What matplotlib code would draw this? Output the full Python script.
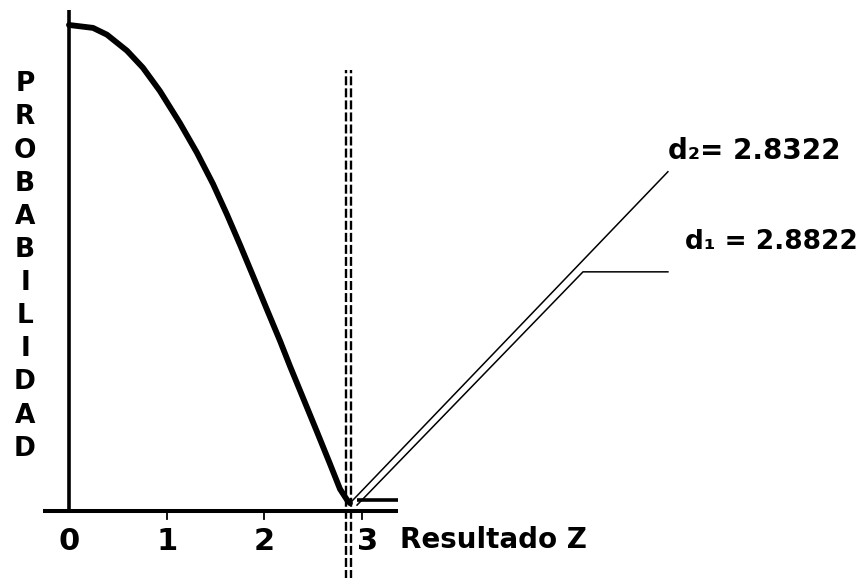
import matplotlib.pyplot as plt

# Datos
z_vals = [0.0, 0.246, 0.389, 0.594, 0.757, 0.931, 1.136, 1.310, 1.474, 1.617, 1.750,
          1.883, 2.027, 2.160, 2.262, 2.395, 2.538, 2.671, 2.774, 2.845, 2.876]
p_vals = [1.0, 0.994, 0.980, 0.947, 0.912, 0.864, 0.798, 0.737, 0.673, 0.610, 0.548,
          0.484, 0.414, 0.350, 0.298, 0.233, 0.163, 0.097, 0.045, 0.023, 0.016]
x_ticks = [0, 1, 2, 3]
x_tick_labels = ['0', '1', '2', '3']
d2 = 2.8322
d1 = 2.8822
d_labels = ['d\u2082= 2.8322', 'd\u2081 = 2.8822']

font = ['DejaVu Sans']

fig = plt.figure(figsize=(8.68, 5.78), dpi=100)
ax = fig.add_axes([0, 0, 1, 1])
ax.set_xlim(-0.706, 8.178)
ax.set_ylim(-0.138, 1.0514)
ax.axis('off')

# ejes
ax.plot([0, 0], [-0.002, 1.031], color='black', lw=2.6, solid_capstyle='butt')
ax.plot([-0.266, 3.367], [0, 0], color='black', lw=2.9, solid_capstyle='butt')
ax.plot([2.948, 3.367], [0.0226, 0.0226], color='black', lw=2.6, solid_capstyle='butt')
for t in x_ticks[1:]:
    ax.plot([t, t], [0, -0.017], color='black', lw=1.3)
for t, lab in zip(x_ticks, x_tick_labels):
    ax.text(t + (0.06 if t == 3 else 0), -0.062, lab, ha='center', va='center',
            fontsize=22, fontweight='bold', family=font)

# curva
ax.plot(z_vals, p_vals, color='black', lw=4.2, solid_capstyle='round',
        solid_joinstyle='round')

# líneas discontinuas en d2 y d1
for d in (d2, d1):
    ax.plot([d, d], [-0.14, 0.907], color='black', lw=1.7, dashes=(3.8, 1.3))

# líneas de anotación
ax.plot([2.876, 6.13], [0.016, 0.698], color='black', lw=1.1)
ax.plot([2.948, 5.261, 6.13], [0.012, 0.492, 0.492], color='black', lw=1.1)

ax.text(6.13, 0.741, d_labels[0], ha='left', va='center', fontsize=20,
        fontweight='bold', family=font)
ax.text(6.3, 0.553, d_labels[1], ha='left', va='center', fontsize=19,
        fontweight='bold', family=font)

ax.text(3.39, -0.06, 'Resultado Z', ha='left', va='center', fontsize=20,
        fontweight='bold', family=font)

# etiqueta vertical
ax.text(-0.45, 0.503, '\n'.join('PROBABILIDAD'), ha='center', va='center',
        fontsize=19, fontweight='bold', family=font, linespacing=1.356)

fig.savefig('out.png', dpi=100)
